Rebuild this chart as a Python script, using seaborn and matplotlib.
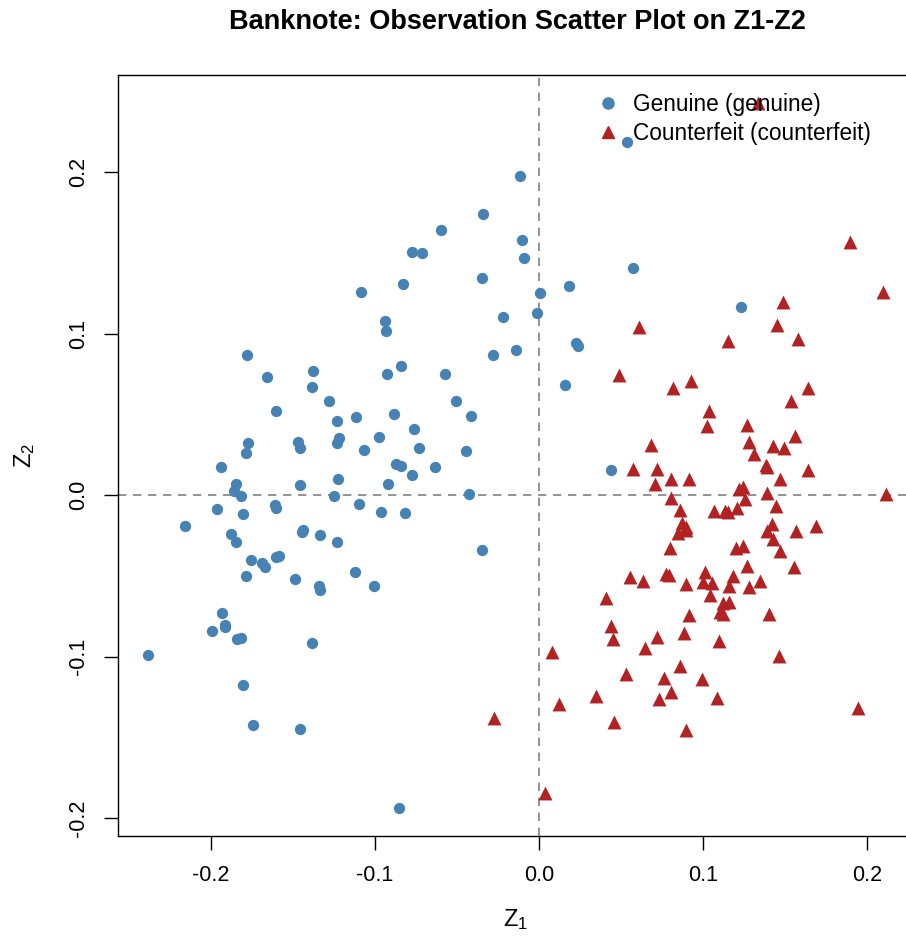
import numpy as np
import pandas as pd
import matplotlib
matplotlib.use('Agg')
import matplotlib.pyplot as plt
import seaborn as sns
from matplotlib.lines import Line2D

# genuine notes (scores on Z1, Z2)
genuine_z1 = [0.0537, -0.0116, -0.0341, -0.0598, -0.0774, -0.0713, -0.0104, -0.0091, 0.0573, -0.0829,
              -0.0348, 0.0183, 0.0006, -0.0220, -0.0012, -0.1085, -0.0939, -0.0933, 0.1232, 0.0226,
              0.0238, -0.0280, -0.0140, 0.0159, -0.1780, -0.1659, -0.1378, -0.1384, -0.1280, -0.1604,
              -0.1232, -0.1220, -0.1232, -0.1774, -0.1787, -0.1470, -0.1457, -0.1939, -0.1848, -0.1860,
              -0.1817, -0.1457, -0.1250, -0.1226, -0.1963, -0.1805, -0.1610, -0.1604, -0.2159, -0.0927,
              -0.0841, -0.0573, -0.0506, -0.0415, -0.1116, -0.0884, -0.0762, -0.0976, -0.1067, -0.0732,
              -0.0445, -0.0872, -0.0841, -0.0774, -0.0634, -0.0921, -0.0427, -0.1098, -0.0963, -0.0817,
              -0.1439, -0.1878, -0.1848, -0.1445, -0.1335, -0.1232, -0.1756, -0.1689, -0.1671, -0.1604,
              -0.1585, -0.1787, -0.1488, -0.1122, -0.1341, -0.1335, -0.1006, -0.1933, -0.1915, -0.1915,
              -0.1994, -0.1841, -0.1817, -0.1384, -0.2384, -0.1805, -0.1744, -0.1457, -0.0854, 0.0439,
              -0.0348]
genuine_z2 = [0.2186, 0.1975, 0.1740, 0.1641, 0.1505, 0.1498, 0.1579, 0.1467, 0.1406, 0.1307,
              0.1344, 0.1294, 0.1251, 0.1102, 0.1127, 0.1257, 0.1077, 0.1015, 0.1164, 0.0941,
              0.0923, 0.0867, 0.0898, 0.0681, 0.0867, 0.0731, 0.0768, 0.0669, 0.0582, 0.0520,
              0.0458, 0.0353, 0.0322, 0.0322, 0.0260, 0.0328, 0.0291, 0.0173, 0.0068, 0.0025,
              -0.0006, 0.0062, -0.0006, 0.0099, -0.0087, -0.0118, -0.0062, -0.0080, -0.0192, 0.0749,
              0.0799, 0.0749, 0.0582, 0.0489, 0.0483, 0.0502, 0.0409, 0.0359, 0.0279, 0.0291,
              0.0272, 0.0192, 0.0180, 0.0124, 0.0173, 0.0068, 0.0006, -0.0056, -0.0105, -0.0111,
              -0.0217, -0.0241, -0.0291, -0.0229, -0.0248, -0.0291, -0.0402, -0.0421, -0.0446, -0.0384,
              -0.0378, -0.0502, -0.0520, -0.0477, -0.0563, -0.0588, -0.0563, -0.0731, -0.0805, -0.0817,
              -0.0842, -0.0892, -0.0885, -0.0916, -0.0991, -0.1176, -0.1424, -0.1449, -0.1938, 0.0155,
              -0.0341]

# counterfeit notes
counterfeit_z1 = [0.1335, 0.1896, 0.2098, 0.1488, 0.1451, 0.0610, 0.1152, 0.1579, 0.0488, 0.0927,
                  0.0817, 0.1640, 0.1537, 0.1037, 0.1024, 0.1268, 0.1561, 0.0683, 0.1280, 0.1311,
                  0.1427, 0.1494, 0.1384, 0.1390, 0.1640, 0.0573, 0.0720, 0.0707, 0.0805, 0.0915,
                  0.1470, 0.1220, 0.1244, 0.1390, 0.1256, 0.2116, 0.0805, 0.0860, 0.1067, 0.1134,
                  0.1152, 0.1207, 0.1445, 0.0872, 0.0896, 0.0848, 0.0896, 0.1421, 0.1390, 0.1567,
                  0.1689, 0.1427, 0.0799, 0.1201, 0.1244, 0.1470, 0.1268, 0.1555, 0.0555, 0.0634,
                  0.0774, 0.0793, 0.0896, 0.1012, 0.1000, 0.1055, 0.1159, 0.1183, 0.1280, 0.1348,
                  0.1043, 0.0409, 0.1122, 0.1159, 0.1104, 0.1122, 0.1402, 0.0915, 0.0439, 0.0451,
                  0.0720, 0.0884, 0.0646, 0.1098, 0.0079, 0.1463, 0.0860, 0.0530, 0.0762, 0.0994,
                  0.0805, 0.0348, 0.0732, 0.1085, 0.0122, 0.0457, 0.0896, 0.1945, -0.0274, 0.0037]
counterfeit_z2 = [0.2427, 0.1567, 0.1257, 0.1195, 0.1053, 0.1040, 0.0954, 0.0966, 0.0743, 0.0706,
                  0.0663, 0.0663, 0.0582, 0.0520, 0.0427, 0.0433, 0.0365, 0.0310, 0.0328, 0.0254,
                  0.0303, 0.0291, 0.0186, 0.0173, 0.0155, 0.0161, 0.0161, 0.0068, 0.0099, 0.0099,
                  0.0099, 0.0037, 0.0050, 0.0012, -0.0025, 0.0006, -0.0019, -0.0093, -0.0099, -0.0099,
                  -0.0105, -0.0080, -0.0068, -0.0173, -0.0198, -0.0235, -0.0217, -0.0180, -0.0223, -0.0223,
                  -0.0192, -0.0272, -0.0328, -0.0328, -0.0316, -0.0347, -0.0440, -0.0446, -0.0508, -0.0533,
                  -0.0489, -0.0495, -0.0551, -0.0477, -0.0539, -0.0545, -0.0563, -0.0502, -0.0570, -0.0533,
                  -0.0619, -0.0638, -0.0669, -0.0663, -0.0724, -0.0737, -0.0737, -0.0743, -0.0811, -0.0892,
                  -0.0879, -0.0854, -0.0947, -0.0904, -0.0972, -0.0997, -0.1059, -0.1108, -0.1133, -0.1139,
                  -0.1220, -0.1245, -0.1263, -0.1257, -0.1294, -0.1406, -0.1455, -0.1319, -0.1381, -0.1845]

x_ticks = [-0.2, -0.1, 0.0, 0.1, 0.2]
y_ticks = [-0.2, -0.1, 0.0, 0.1, 0.2]

blue = '#4682B4'
red = '#B22222'

gen = pd.DataFrame({'Z1': genuine_z1, 'Z2': genuine_z2})
cft = pd.DataFrame({'Z1': counterfeit_z1, 'Z2': counterfeit_z2})

sns.set_style('white')
plt.rcParams['font.family'] = ['Liberation Sans', 'DejaVu Sans']
plt.rcParams['text.color'] = 'black'

fig = plt.figure(figsize=(9.06, 9.41), dpi=100)
ax = fig.add_axes([118/906, 105/941, 795/906, 761/941])

ax.axvline(0, color='#808080', lw=1.2, ls=(0, (5, 4)), zorder=1)
ax.axhline(0, color='#808080', lw=1.2, ls=(0, (5, 4)), zorder=1)

sns.scatterplot(data=gen, x='Z1', y='Z2', color=blue, marker='o', s=66, linewidth=0, ax=ax, zorder=3)
sns.scatterplot(data=cft, x='Z1', y='Z2', color=red, marker='^', s=100, linewidth=0, ax=ax, zorder=3)

ax.set_xlim(-0.2567, 0.2280)
ax.set_ylim(-0.2111, 0.2601)
ax.set_xticks(x_ticks)
ax.set_yticks(y_ticks)
ax.set_xticklabels(['%.1f' % v for v in x_ticks])
ax.set_yticklabels(['%.1f' % v for v in y_ticks], rotation=90, va='center')
ax.tick_params(direction='out', length=10, width=1, colors='black', labelcolor='black',
               labelsize=15.5, pad=11, left=True, bottom=True)

for sp in ax.spines.values():
    sp.set_color('black')
    sp.set_linewidth(1)

ax.set_xlabel('$\\mathregular{Z_1}$', fontsize=17, labelpad=15, color='black')
ax.set_ylabel('$\\mathregular{Z_2}$', fontsize=17, labelpad=22, color='black')

fig.text(517/906, 1 - 22/941, 'Banknote: Observation Scatter Plot on Z1-Z2',
         ha='center', va='center', fontsize=19.5, fontweight='bold', color='black')

handles = [Line2D([], [], ls='', marker='o', color=blue, markersize=8),
           Line2D([], [], ls='', marker='^', color=red, markersize=9)]
ax.legend(handles, ['Genuine (genuine)', 'Counterfeit (counterfeit)'],
          loc='upper left', bbox_to_anchor=(0.591, 0.988), frameon=False,
          fontsize=16.3, handlelength=1.0, handletextpad=0.6, labelspacing=0.25, borderaxespad=0,
          labelcolor='black')

fig.savefig('out.png', dpi=100)
